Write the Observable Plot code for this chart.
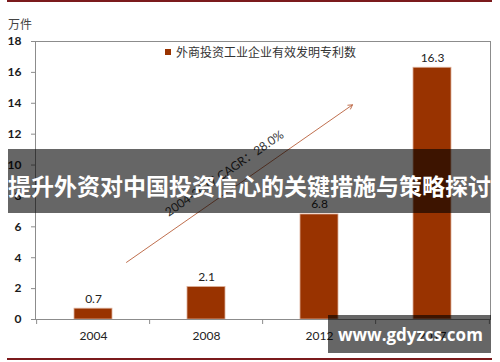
<!DOCTYPE html>
<html><head><meta charset="utf-8">
<script src="https://cdn.jsdelivr.net/npm/d3@7"></script>
<script src="https://cdn.jsdelivr.net/npm/@observablehq/plot@0.6"></script>
<style>
html,body{margin:0;padding:0;background:#fff;}
#wrap{position:relative;width:500px;height:362px;overflow:hidden;font-family:Lato,"Noto Sans CJK SC",sans-serif;}
#wrap svg{position:absolute;left:0;top:0;}
.abs{position:absolute;white-space:nowrap;}
</style></head><body>
<div id="wrap"></div>
<script>
// ---- data ----
const years = ["2004", "2008", "2012", "2017"];
const patents = [0.7, 2.1, 6.8, 16.3];
const yTicks = [0, 2, 4, 6, 8, 10, 12, 14, 16, 18];
const unitLabel = "万件";
const seriesName = "外商投资工业企业有效发明专利数";
const cagrText = "2004-2017 CAGR：28.0%";
const arrowStart = ["2004", 3.7];
const arrowEnd = ["2012", 13.9];
const cagrAnchor = ["2008", 9.45];
const bannerTitle = "提升外资对中国投资信心的关键措施与策略探讨";
const watermark = "www.gdyzcs.com";

// ---- chart ----
const data = years.map((y, i) => ({year: y, value: patents[i]}));
const W = 500, H = 362, mL = 35, mR = 10, mT = 41, mB = 43;
const step = (W - mL - mR) / years.length;
const barColor = "#993300";

const chart = Plot.plot({
  width: W, height: H,
  marginLeft: mL, marginRight: mR, marginTop: mT, marginBottom: mB,
  style: {fontFamily: "Lato, sans-serif", fontSize: "12px", color: "#222", background: "transparent"},
  x: {type: "band", domain: years, paddingInner: 0.665, paddingOuter: 0.3325, label: null},
  y: {domain: [0, 18], label: null},
  marks: [
    Plot.barY(data, {x: "year", y: "value", fill: barColor, stroke: "#dcae98", strokeWidth: 0.8}),
    Plot.frame({stroke: "#8c8c8c"}),
    Plot.axisY({ticks: yTicks, tickSize: 4, tickPadding: 10, stroke: "#8c8c8c", fill: "#1a1a1a", fontSize: 12, fontWeight: "bold", label: null}),
    Plot.axisX({tickSize: 0, tickPadding: 12, fill: "#222", fontSize: 12, label: null}),
    Plot.ruleX(years, {x: d => d, dx: -step / 2, y1: 0, y2: 0, insetBottom: -5, stroke: "#8c8c8c"}),
    Plot.ruleX(years.slice(-1), {x: d => d, dx: step / 2, y1: 0, y2: 0, insetBottom: -5, stroke: "#8c8c8c"}),
    Plot.text(data, {x: "year", y: "value", text: d => d.value.toFixed(1), dy: -10, fill: "#222", fontSize: 12}),
    Plot.arrow([{x1: arrowStart[0], y1: arrowStart[1], x2: arrowEnd[0], y2: arrowEnd[1]}],
      {x1: "x1", y1: "y1", x2: "x2", y2: "y2", dx: 33, stroke: "#c0704f", strokeWidth: 1, headLength: 7}),
    Plot.text([cagrText], {x: () => cagrAnchor[0], y: () => cagrAnchor[1], text: d => d, dx: 18, rotate: -34.7,
      fill: "#333", fontSize: 12, fontFamily: "Lato, 'Noto Sans CJK SC', sans-serif"})
  ]
});

const wrap = document.getElementById("wrap");
wrap.appendChild(chart);

function addDiv(style, text) {
  const d = document.createElement("div");
  d.className = "abs";
  Object.assign(d.style, style);
  if (text != null) d.textContent = text;
  wrap.appendChild(d);
  return d;
}
// decorative lines
addDiv({left: "7px", top: "0px", width: "485px", height: "2px", background: "#7b1a1c"});
addDiv({left: "7px", top: "358px", width: "485px", height: "2px", background: "#7b1a1c"});
// unit label
addDiv({left: "8px", top: "17px", fontSize: "12px", lineHeight: "14px", color: "#444", fontFamily: "'Noto Sans CJK SC', sans-serif"}, unitLabel);
// legend
addDiv({left: "165px", top: "49px", width: "6px", height: "6px", background: barColor});
addDiv({left: "176px", top: "45px", fontSize: "12px", lineHeight: "14px", color: "#333", fontFamily: "'Noto Sans CJK SC', sans-serif"}, seriesName);
// banner overlay
addDiv({left: "8px", top: "149px", width: "482px", height: "64px", background: "rgba(0,0,0,0.6)"});
addDiv({left: "8px", top: "171px", width: "482px", textAlign: "center", fontSize: "23px", lineHeight: "28px", fontWeight: "bold", color: "#fff", fontFamily: "'Noto Sans CJK SC', sans-serif"}, bannerTitle);
// watermark
addDiv({left: "328px", top: "315px", width: "163px", height: "38px", background: "rgba(0,0,0,0.6)"});
addDiv({left: "338px", top: "322px", fontSize: "17px", lineHeight: "26px", fontWeight: "bold", color: "#fff", fontFamily: "'Open Sans', sans-serif"}, watermark);
</script>
</body></html>
